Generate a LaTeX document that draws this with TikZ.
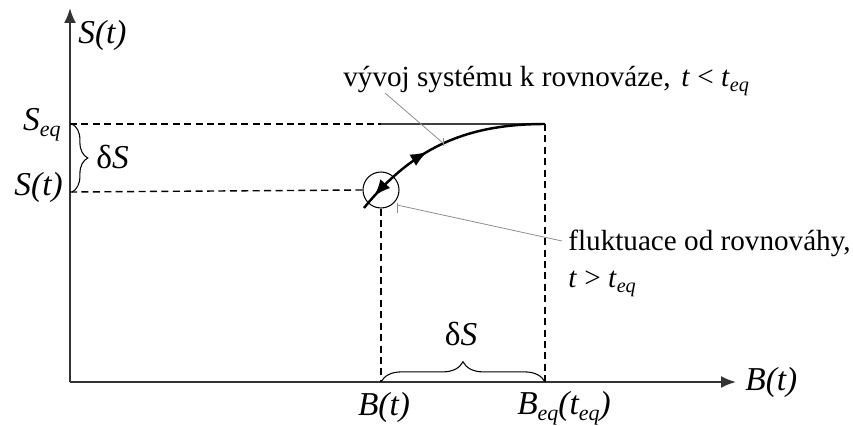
\documentclass[tikz,border=0pt]{standalone}
\usepackage{fontspec}
\setmainfont{Liberation Serif}
\usetikzlibrary{arrows.meta,decorations.pathreplacing,decorations.markings,calc}
\newcommand{\lowsub}[1]{\raisebox{-0.2em}{\fontsize{12.5}{14}\selectfont\itshape #1}}
\newcommand{\lowsubn}[1]{\raisebox{-0.2em}{\fontsize{11.5}{13}\selectfont\itshape #1}}
\begin{document}
\begin{tikzpicture}[x=0.02cm,y=-0.02cm,
  axis/.style={line width=1.1pt, draw=black!80, -{Latex[length=8.5pt,width=6.8pt]}},
  guide/.style={line width=0.8pt, dash pattern=on 4pt off 2.5pt},
  lbl/.style={font=\fontsize{19}{22}\selectfont\itshape, inner sep=0},
  note/.style={font=\fontsize{16.6}{20}\selectfont, inner sep=0, anchor=base west},
  leader/.style={draw=black!45, line width=0.45pt},
  bracestyle/.style={line width=0.6pt, decorate},
  evol/.style={line width=1.4pt, postaction={decorate}, decoration={markings,
      mark=at position 0.075 with {\arrowreversed{Latex[length=9.5pt,width=7.5pt]}},
      mark=at position 0.41 with {\arrow{Latex[length=9.5pt,width=7.5pt]}}}}]
\useasboundingbox (0,0) rectangle (853,426);
% axes
\coordinate (O) at (70,382);
\coordinate (ytip) at (70,8);
\coordinate (xtip) at (736,382);
\draw[axis] (O) -- (ytip);
\draw[axis] (O) -- (xtip);
\node[lbl, anchor=base west] (Sy) at (78,43) {S(t)};
\node[lbl, anchor=base west] (Bx) at (745,390) {B(t)};
% key points
\coordinate (Seqy) at (70,124);
\coordinate (Sty) at (70,192);
\coordinate (eqpt) at (545,124);
\coordinate (Bxt) at (381,382);
\coordinate (Bxeq) at (545,382);
\coordinate (start) at (364,208);
\coordinate (solidstart) at (381,124);
\node[circle, draw, line width=0.6pt, minimum size=0.72cm, inner sep=0] (circ) at (381,190) {};
% guides
\draw[guide] (Seqy) -- (solidstart);
\draw[line width=0.6pt, draw=black!75] (solidstart) -- (eqpt);
\draw[guide] (Sty) -- (circ.west);
\draw[guide] (circ.south) -- (Bxt);
\draw[guide] (eqpt) -- (Bxeq);
% curve
\draw[evol] (start) .. controls (415,145) and (470,124) .. (eqpt);
% axis labels
\node[lbl, anchor=base east] (Seq) at (61,130) {S\lowsub{eq}};
\node[lbl, anchor=base east] (St) at (63,195) {S(t)};
\node[lbl, anchor=base] (Bt) at (384,415) {B(t)};
\node[lbl, anchor=base] (Beq) at (564,414) {B\lowsub{eq}(t\lowsub{eq})};
% braces
\draw[bracestyle, decoration={brace, amplitude=9pt}] (72,124) -- (72,192);
\node[inner sep=0, anchor=base west, font=\fontsize{19}{22}\selectfont] (dS1) at (96,168) {δ\textit{S}};
\draw[bracestyle, decoration={brace, amplitude=11.5pt}] (Bxt) -- (Bxeq);
\node[inner sep=0, anchor=base, font=\fontsize{19}{22}\selectfont] (dS2) at (461,345) {δ\textit{S}};
% annotations
\node[note] (n1) at (343,86) {vývoj systému k rovnováze,\hspace{0.12em} \textit{t} < \textit{t}\lowsubn{eq}};
\node[note] (n2) at (568,250) {fluktuace od rovnováhy,};
\node[note] (n3) at (568,287) {\textit{t} > \textit{t}\lowsubn{eq}};
\coordinate (l1a) at (385,93);
\coordinate (l1b) at (443,143);
\coordinate (l2a) at (397,205);
\coordinate (l2b) at (562,241);
\draw[leader] (l1a) -- (l1b);
\draw[leader] ($(l1b)+(0,-5)$) -- ($(l1b)+(0,3)$);
\draw[leader] (l2b) -- (l2a);
\draw[leader] ($(l2a)+(0,-2)$) -- ($(l2a)+(0,8)$);
\end{tikzpicture}
\end{document}
